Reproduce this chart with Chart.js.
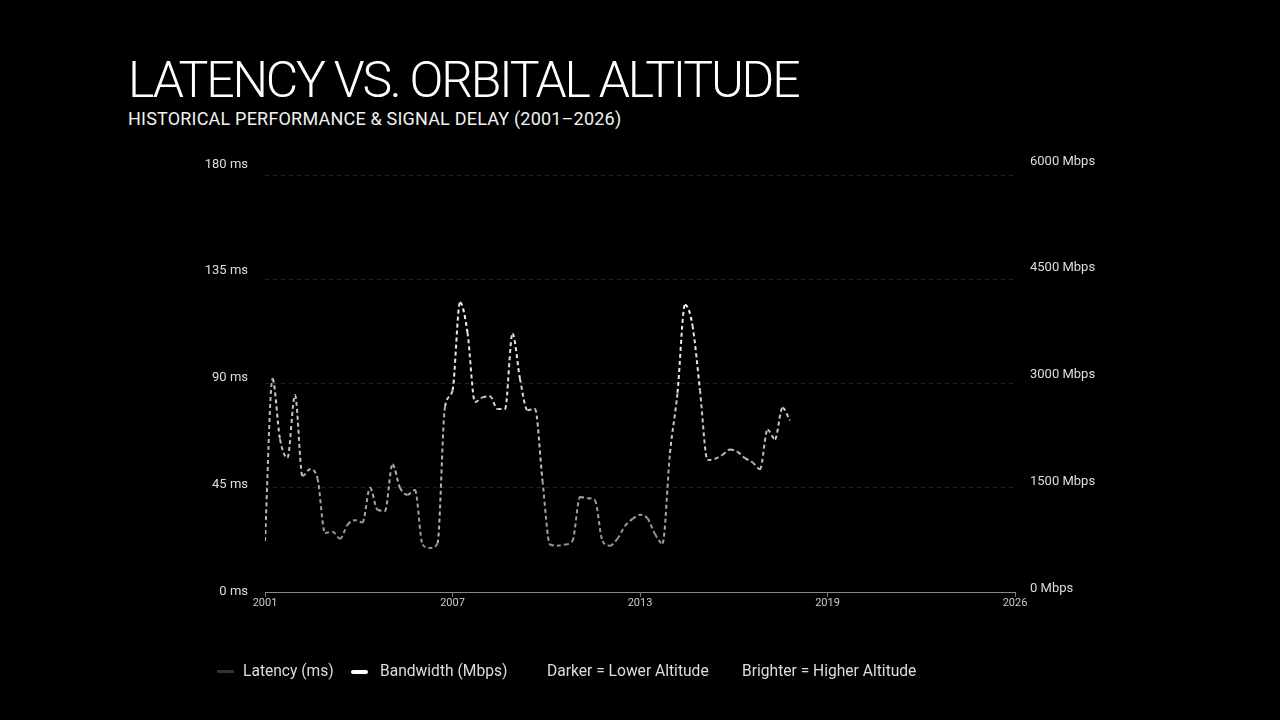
<!DOCTYPE html>
<html>

<head>
    <meta charset="utf-8">
    <script src="https://cdn.jsdelivr.net/npm/chart.js@4"></script>
    <style>
        body { margin: 0; background: #000; width: 1280px; height: 720px; overflow: hidden; position: relative; font-family: "Roboto", sans-serif; color: #fff; }
        #titel { position: absolute; left: 128px; top: 51px; font-size: 50px; font-weight: 300; letter-spacing: -2.2px; white-space: nowrap; }
        #podtytul { position: absolute; left: 128px; top: 108px; font-size: 18px; font-weight: 400; letter-spacing: 0.2px; white-space: nowrap; color: #f2f2f2; }
        #wykres { position: absolute; left: 0; top: 0; }
        .leg { position: absolute; top: 662px; font-size: 15.6px; color: #ddd; white-space: nowrap; }
        .kreska { position: absolute; top: 670px; width: 17px; height: 3px; }
    </style>
</head>

<body>
    <div id="titel">LATENCY VS. ORBITAL ALTITUDE</div>
    <div id="podtytul">HISTORICAL PERFORMANCE &amp; SIGNAL DELAY (2001–2026)</div>
    <canvas id="wykres" width="1280" height="720"></canvas>
    <div class="kreska" style="left:217px;background:#333"></div>
    <div class="leg" style="left:243px">Latency (ms)</div>
    <div class="kreska" style="left:351px;background:#fff;height:4px;border-radius:2px"></div>
    <div class="leg" style="left:380px">Bandwidth (Mbps)</div>
    <div class="leg" style="left:547px">Darker = Lower Altitude</div>
    <div class="leg" style="left:742px">Brighter = Higher Altitude</div>
    <script>
        // kwartalne pomiary od 2001 Q1
        const rokStart = 2001;
        const latencja = [
            22, 92, 66, 58, 85, 50, 53, 49, 25.5, 26,
            23, 29, 31, 30, 45, 35.5, 35, 55, 45, 42,
            44, 20.5, 19, 21, 80, 87, 125, 112, 82, 84,
            84.5, 79, 79, 111.5, 92, 78.5, 79, 48, 20.5, 20,
            20.5, 22, 41, 40.5, 39.5, 22, 20, 23, 28.5, 31.5,
            33.3, 31.8, 25, 21, 60, 86, 124, 115, 87, 57,
            57.5, 59.2, 61.5, 60.5, 57.8, 56, 53, 70, 66, 79.5,
            74
        ];
        const przepustowosc = [];

        const xTicki = [2001, 2007.25, 2013.5, 2019.75, 2026];
        const xEtykiety = ["2001", "2007", "2013", "2019", "2026"];
        const msTicki = [0, 45, 90, 135, 180];
        const mbpsTicki = [0, 1500, 3000, 4500, 6000];

        const punkty = latencja.map((v, i) => ({ x: rokStart + i / 4, y: v }));

        // podpisy osi stoja troche rozsunięte wzgledem linii siatki
        const rozciag = 417.6 / 428.3;

        function jasnosc(v) {
            const t = Math.max(0, Math.min(1, (v - 15) / 110));
            const g = Math.round(140 + t * 115);
            return "rgb(" + g + "," + g + "," + g + ")";
        }

        const dane = {
            datasets: [
                {
                    label: "Latency (ms)",
                    data: punkty,
                    yAxisID: "ms",
                    borderColor: "#ddd",
                    borderWidth: 2,
                    borderDash: [4, 3],
                    pointRadius: 0,
                    cubicInterpolationMode: "monotone",
                    segment: {
                        borderColor: ctx => jasnosc((ctx.p0.parsed.y + ctx.p1.parsed.y) / 2)
                    }
                },
                {
                    label: "Bandwidth (Mbps)",
                    data: przepustowosc,
                    yAxisID: "mbps",
                    borderColor: "#fff",
                    borderWidth: 2,
                    pointRadius: 0
                }
            ]
        };

        const ctx = document.getElementById("wykres").getContext("2d");
        const wykres = new Chart(ctx, {
            type: "line",
            data: dane,
            options: {
                responsive: false,
                animation: false,
                layout: { padding: { top: 175, left: 0, right: 0, bottom: 0 } },
                plugins: { legend: { display: false }, tooltip: { enabled: false } },
                scales: {
                    x: {
                        type: "linear",
                        min: 2001,
                        max: 2026,
                        afterBuildTicks: s => { s.ticks = xTicki.map(v => ({ value: v })); },
                        afterFit: s => { s.height = 128; },
                        ticks: {
                            color: "#ccc",
                            font: { family: "Roboto", size: 11 },
                            padding: 0,
                            maxRotation: 0,
                            callback: (v, i) => xEtykiety[i]
                        },
                        grid: { drawOnChartArea: false, drawTicks: true, tickLength: 5, color: "#777" },
                        border: { color: "#888", width: 1 }
                    },
                    ms: {
                        position: "left",
                        min: 0,
                        max: 180,
                        afterBuildTicks: s => { s.ticks = msTicki.map(v => ({ value: v })); },
                        afterFit: s => { s.width = 0; },
                        ticks: { display: false },
                        grid: { color: "rgba(255,255,255,0.13)", drawTicks: false },
                        border: { display: false, dash: [4, 4] }
                    },
                    msOpis: {
                        position: "left",
                        min: 0,
                        max: 180 * rozciag,
                        afterBuildTicks: s => { s.ticks = msTicki.map(v => ({ value: v })); },
                        afterFit: s => { s.width = 265; },
                        ticks: {
                            color: "#ddd",
                            font: { family: "Roboto", size: 13 },
                            padding: 17,
                            callback: v => v + " ms"
                        },
                        grid: { display: false, drawTicks: false },
                        border: { display: false }
                    },
                    mbps: {
                        position: "right",
                        min: 0,
                        max: 6000 * rozciag,
                        afterBuildTicks: s => { s.ticks = mbpsTicki.map(v => ({ value: v })); },
                        afterFit: s => { s.width = 265; },
                        ticks: {
                            color: "#ddd",
                            font: { family: "Roboto", size: 13 },
                            padding: 15,
                            labelOffset: -3,
                            callback: v => v + " Mbps"
                        },
                        grid: { display: false, drawTicks: false },
                        border: { display: false }
                    }
                }
            }
        });
    </script>
</body>

</html>
